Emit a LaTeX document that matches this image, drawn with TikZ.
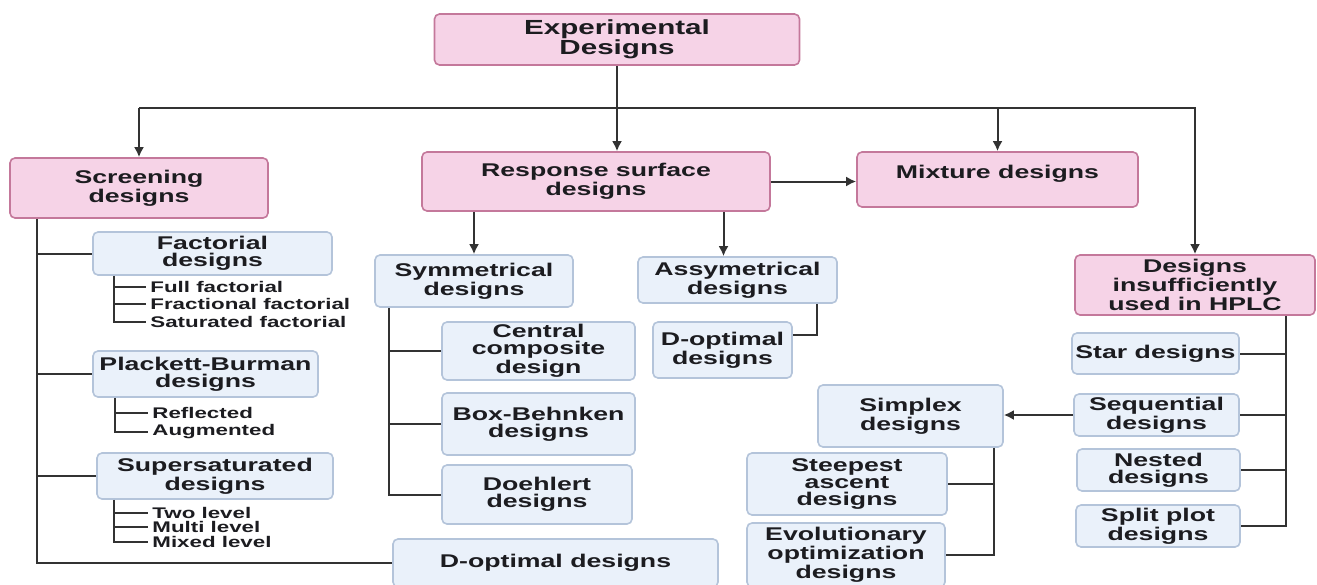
\documentclass[tikz,border=0pt]{standalone}
\usepackage{fontspec}
\newfontfamily\boxfont{Liberation Sans}[FakeStretch=1.45]
\usetikzlibrary{arrows.meta}
\definecolor{rosa}{RGB}{246,211,231}
\definecolor{dunkelrosa}{RGB}{196,120,155}
\definecolor{hellblau}{RGB}{234,241,250}
\definecolor{graublau}{RGB}{180,196,218}
\definecolor{linie}{RGB}{50,50,50}
\definecolor{schrift}{RGB}{28,28,32}

\begin{document}
\begin{tikzpicture}[x=0.5pt, y=-0.5pt,
  box/.style={rounded corners=2.5pt, line width=0.8pt, align=center, inner sep=1pt, text=schrift,
    font=\boxfont\bfseries\fontsize{9.2}{8.4}\selectfont},
  pinkbox/.style={box, draw=dunkelrosa, fill=rosa},
  bluebox/.style={box, draw=graublau, fill=hellblau},
  subitem/.style={anchor=west, inner sep=2pt, text=schrift,
    font=\boxfont\bfseries\fontsize{7.7}{8}\selectfont},
  conn/.style={draw=linie, line width=1pt},
  arr/.style={conn, -{Latex[length=5pt, width=5pt]}}]
\fill[white] (0,0) rectangle (1317,584);
\useasboundingbox (0,0) rectangle (1317,584);
% pink boxes
\node[pinkbox, minimum width=182.5pt, minimum height=25.5pt,
  font=\boxfont\bfseries\fontsize{10.2}{9.8}\selectfont] (exp) at (617,39.5) {Experimental\\Designs};
\node[pinkbox, minimum width=129pt, minimum height=30pt] (scr) at (139,188) {Screening\\designs};
\node[pinkbox, minimum width=174pt, minimum height=29.5pt] (rsm) at (596,181.5) {Response surface\\designs};
\node[pinkbox, minimum width=140.5pt, minimum height=27.5pt, text depth=8pt] (mix) at (997.5,179.5) {Mixture designs};
\node[pinkbox, minimum width=120pt, minimum height=30pt] (hplc) at (1195,285) {Designs\\insufficiently\\used in HPLC};
% screening branch
\node[bluebox, minimum width=119.5pt, minimum height=21.5pt] (fac) at (212.5,253.5) {Factorial\\designs};
\node[subitem] (ff1) at (146,287) {Full factorial};
\node[subitem] (ff2) at (146,304) {Fractional factorial};
\node[subitem] (ff3) at (146,322) {Saturated factorial};
\node[bluebox, minimum width=112.5pt, minimum height=23pt] (pb) at (205.5,374) {Plackett-Burman\\designs};
\node[subitem] (pb1) at (148,413) {Reflected};
\node[subitem] (pb2) at (148,432) {Augmented};
\node[bluebox, minimum width=118pt, minimum height=23pt] (sup) at (215,476) {Supersaturated\\designs};
\node[subitem] (ss1) at (148,513) {Two level};
\node[subitem] (ss2) at (148,527) {Multi level};
\node[subitem] (ss3) at (148,542) {Mixed level};
\node[bluebox, minimum width=162.5pt, minimum height=24pt] (dopt) at (555.5,563) {D-optimal designs};
% response surface branch
\node[bluebox, minimum width=99pt, minimum height=26pt] (sym) at (474,281) {Symmetrical\\designs};
\node[bluebox, minimum width=96.5pt, minimum height=29pt] (ccd) at (538.5,351) {Central\\composite\\design};
\node[bluebox, minimum width=96.5pt, minimum height=31pt] (bbd) at (538.5,424) {Box-Behnken\\designs};
\node[bluebox, minimum width=95pt, minimum height=29.5pt] (doe) at (537,494.5) {Doehlert\\designs};
\node[bluebox, minimum width=99.5pt, minimum height=23pt] (asy) at (737.5,280) {Assymetrical\\designs};
\node[bluebox, minimum width=69.5pt, minimum height=28pt] (dop2) at (722.5,350) {D-optimal\\designs};
% HPLC branch
\node[bluebox, minimum width=83.5pt, minimum height=20.5pt] (star) at (1155.5,353.5) {Star designs};
\node[bluebox, minimum width=82.5pt, minimum height=21pt] (seq) at (1156.5,415) {Sequential\\designs};
\node[bluebox, minimum width=81.5pt, minimum height=21pt] (nst) at (1158.5,470) {Nested\\designs};
\node[bluebox, minimum width=82pt, minimum height=21pt] (spl) at (1158,526) {Split plot\\designs};
\node[bluebox, minimum width=92.5pt, minimum height=31pt] (spx) at (910.5,416) {Simplex\\designs};
\node[bluebox, minimum width=100pt, minimum height=31pt] (ste) at (847,484) {Steepest\\ascent\\designs};
\node[bluebox, minimum width=99pt, minimum height=32pt] (evo) at (846,555) {Evolutionary\\optimization\\designs};

% top level arrows
\coordinate (bar) at (617,108);
\draw[arr] (exp.south) -- (exp.south |- rsm.north);
\draw[arr] (bar -| scr.north) -- (scr.north);
\draw[arr] (bar -| scr.north) -- (bar -| hplc.north) -- (hplc.north);
\draw[arr] (bar -| mix.north) -- (mix.north);
\draw[arr] (rsm.east) -- (rsm.east -| mix.west);
% response surface
\coordinate (asyin) at ([xshift=-7pt]asy.north);
\draw[arr] (rsm.south -| sym.north) -- (sym.north);
\draw[arr] (asyin |- rsm.south) -- (asyin);
\coordinate (symstem) at ([xshift=7.5pt]sym.south west);
\draw[conn] (symstem) |- (doe.west);
\draw[conn] (symstem |- ccd.west) -- (ccd.west);
\draw[conn] (symstem |- bbd.west) -- (bbd.west);
\coordinate (asystem) at ([xshift=-10.5pt]asy.south east);
\coordinate (dop2in) at ([yshift=7.5pt]dop2.east);
\draw[conn] (asystem) |- (dop2in);
% screening
\coordinate (scrstem) at ([xshift=14pt]scr.south west);
\draw[conn] (scrstem) |- (dopt.west);
\draw[conn] (scrstem |- fac.west) -- (fac.west);
\draw[conn] (scrstem |- pb.west) -- (pb.west);
\draw[conn] (scrstem |- sup.west) -- (sup.west);
\coordinate (facstem) at ([xshift=11pt]fac.south west);
\draw[conn] (facstem) |- (ff3.west);
\draw[conn] (facstem |- ff1.west) -- (ff1.west);
\draw[conn] (facstem |- ff2.west) -- (ff2.west);
\coordinate (pbstem) at ([xshift=11.5pt]pb.south west);
\draw[conn] (pbstem) |- (pb2.west);
\draw[conn] (pbstem |- pb1.west) -- (pb1.west);
\coordinate (supstem) at ([xshift=9pt]sup.south west);
\draw[conn] (supstem) |- (ss3.west);
\draw[conn] (supstem |- ss1.west) -- (ss1.west);
\draw[conn] (supstem |- ss2.west) -- (ss2.west);
% HPLC
\coordinate (hplcstem) at ([xshift=-15pt]hplc.south east);
\draw[conn] (hplcstem) |- (spl.east);
\draw[conn] (hplcstem |- star.east) -- (star.east);
\draw[conn] (hplcstem |- seq.east) -- (seq.east);
\draw[conn] (hplcstem |- nst.east) -- (nst.east);
\draw[arr] (seq.west) -- (seq.west -| spx.east);
% simplex
\coordinate (spxstem) at ([xshift=-5pt]spx.south east);
\draw[conn] (spxstem) |- (evo.east);
\draw[conn] (spxstem |- ste.east) -- (ste.east);
\end{tikzpicture}
\end{document}
